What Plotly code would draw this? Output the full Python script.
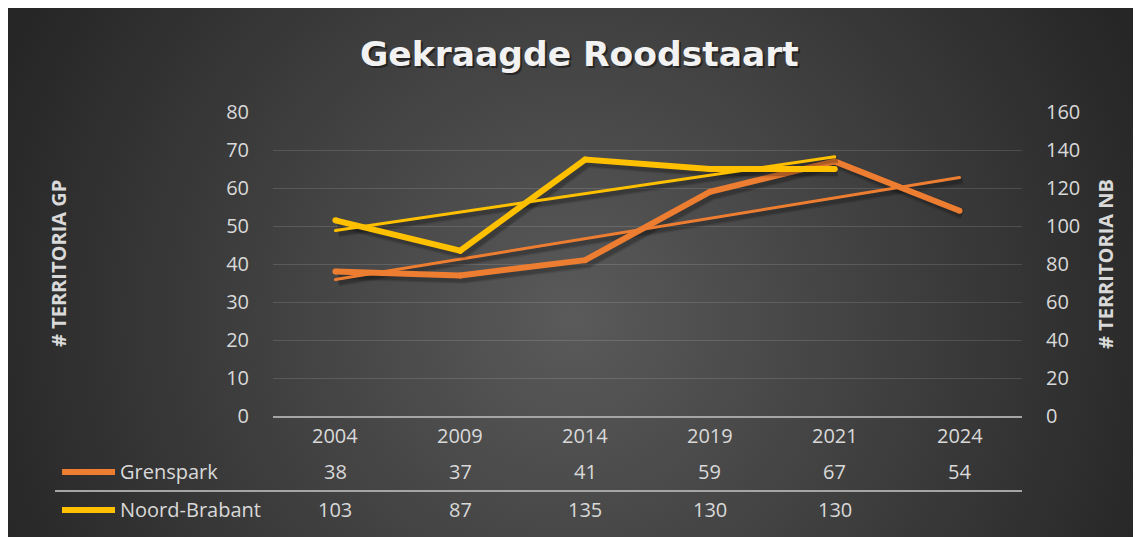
import base64
import numpy as np
import plotly.graph_objects as go

# ---------------- data ----------------
categories = ["2004", "2009", "2014", "2019", "2021", "2024"]
grenspark = [38, 37, 41, 59, 67, 54]
noord_brabant = [103, 87, 135, 130, 130, None]
series_names = ["Grenspark", "Noord-Brabant"]
left_ticks = [0, 10, 20, 30, 40, 50, 60, 70, 80]
right_ticks = [0, 20, 40, 60, 80, 100, 120, 140, 160]
title_text = "Gekraagde Roodstaart"
left_title = "# TERRITORIA GP"
right_title = "# TERRITORIA NB"

# ---------------- styling ----------------
OFF = 8  # page body margin
W, H = 1141 - OFF, 537 - OFF
L, R, T, B = 273 - OFF, 1141 - 1022, 112 - OFF, 537 - 416
PW, PH = W - L - R, H - T - B
ORANGE = "#ED7D31"
YELLOW = "#FFC000"
TICK_COL = "#d9d9d9"
FONT = "Open Sans"


def px_x(px):  # reference screen px -> paper x
    return (px - OFF - L) / PW


def px_y(py):  # reference screen px -> paper y
    return (H - B - (py - OFF)) / PH


x_pos = list(range(len(categories)))


def trend(values):
    xs = [x for x, v in zip(x_pos, values) if v is not None]
    ys = [v for v in values if v is not None]
    k, b = np.polyfit(xs, ys, 1)
    ends = [xs[0], xs[-1]]
    return ends, [k * e + b for e in ends]


gp_tx, gp_ty = trend(grenspark)
nb_tx, nb_ty = trend(noord_brabant)

# shadow offsets (pixels -> data units)
dx_px, dy_px = 3, 3
x_unit = PW / len(categories)
dx = dx_px / x_unit
dy_left = dy_px / (PH / 80)
dy_right = dy_px / (PH / 160)

fig = go.Figure()


def shadow(xs, ys, dyu, yaxis, width):
    sx = [x + dx for x in xs]
    sy = [None if v is None else v - dyu for v in ys]
    for w, op in [(width + 5, 0.10), (width + 2, 0.18)]:
        fig.add_trace(go.Scatter(x=sx, y=sy, yaxis=yaxis, mode="lines",
                                 line=dict(color=f"rgba(0,0,0,{op})", width=w),
                                 hoverinfo="skip", showlegend=False))


shadow(x_pos, grenspark, dy_left, "y", 6)
shadow(x_pos, noord_brabant, dy_right, "y2", 6)
shadow(gp_tx, gp_ty, dy_left, "y", 3)
shadow(nb_tx, nb_ty, dy_right, "y2", 3)

# trendlines
fig.add_trace(go.Scatter(x=gp_tx, y=gp_ty, mode="lines+markers", yaxis="y",
                         line=dict(color=ORANGE, width=3),
                         marker=dict(size=3, color=ORANGE),
                         showlegend=False, hoverinfo="skip"))
fig.add_trace(go.Scatter(x=nb_tx, y=nb_ty, mode="lines+markers", yaxis="y2",
                         line=dict(color=YELLOW, width=3),
                         marker=dict(size=3, color=YELLOW),
                         showlegend=False, hoverinfo="skip"))

# main series
fig.add_trace(go.Scatter(x=x_pos, y=grenspark, mode="lines+markers", yaxis="y",
                         name=series_names[0],
                         line=dict(color=ORANGE, width=6),
                         marker=dict(size=6, color=ORANGE),
                         showlegend=False))
fig.add_trace(go.Scatter(x=x_pos, y=noord_brabant, mode="lines+markers", yaxis="y2",
                         name=series_names[1],
                         line=dict(color=YELLOW, width=6),
                         marker=dict(size=6, color=YELLOW),
                         showlegend=False))

# ---------------- background ----------------
svg = (f'<svg xmlns="http://www.w3.org/2000/svg" width="{W}" height="{H}" '
       f'viewBox="0 0 {W} {H}" preserveAspectRatio="none"><defs>'
       f'<radialGradient id="g" gradientUnits="userSpaceOnUse" cx="565" cy="310" r="620">'
       f'<stop offset="0" stop-color="#5a5a5a"/><stop offset="1" stop-color="#262626"/>'
       f'</radialGradient></defs><rect width="{W}" height="{H}" fill="url(#g)"/></svg>')
src = "data:image/svg+xml;base64," + base64.b64encode(svg.encode()).decode()

annotations = []
shapes = []

# title with shadow
for col, off in [("rgba(0,0,0,0.45)", 2), ("#f2f2f2", 0)]:
    annotations.append(dict(text=f"<b>{title_text}</b>", xref="paper", yref="paper",
                            x=px_x(579 + off), y=px_y(54 + off), showarrow=False,
                            xanchor="center", yanchor="middle",
                            font=dict(family="DejaVu Sans", size=34.5, color=col)))

# axis titles
annotations.append(dict(text=f"<b>{left_title}</b>", xref="paper", yref="paper",
                        x=px_x(58), y=px_y(264), textangle=-90, showarrow=False,
                        xanchor="center", yanchor="middle",
                        font=dict(family=FONT, size=20, color=TICK_COL)))
annotations.append(dict(text=f"<b>{right_title}</b>", xref="paper", yref="paper",
                        x=px_x(1105), y=px_y(264), textangle=-90, showarrow=False,
                        xanchor="center", yanchor="middle",
                        font=dict(family=FONT, size=20, color=TICK_COL)))

# data table: categories
for xp, c in zip(x_pos, categories):
    annotations.append(dict(text=c, xref="x", yref="paper", x=xp, y=px_y(435),
                            showarrow=False, xanchor="center", yanchor="middle",
                            font=dict(family=FONT, size=20, color=TICK_COL)))
row_y = [471, 509]
row_vals = [grenspark, noord_brabant]
row_cols = [ORANGE, YELLOW]
for ry, vals, name, col in zip(row_y, row_vals, series_names, row_cols):
    for xp, v in zip(x_pos, vals):
        if v is None:
            continue
        annotations.append(dict(text=str(v), xref="x", yref="paper", x=xp, y=px_y(ry),
                                showarrow=False, xanchor="center", yanchor="middle",
                                font=dict(family=FONT, size=20, color=TICK_COL)))
    annotations.append(dict(text=name, xref="paper", yref="paper", x=px_x(118), y=px_y(ry),
                            showarrow=False, xanchor="left", yanchor="middle",
                            font=dict(family=FONT, size=20, color=TICK_COL)))
    shapes.append(dict(type="line", xref="paper", yref="paper",
                       x0=px_x(62), x1=px_x(115), y0=px_y(ry + 1), y1=px_y(ry + 1),
                       line=dict(color=col, width=6)))

# table separator
shapes.append(dict(type="line", xref="paper", yref="paper",
                   x0=px_x(55), x1=1.0, y0=px_y(491), y1=px_y(491),
                   line=dict(color="#a5a5a5", width=2)))

fig.update_layout(
    width=W, height=H,
    margin=dict(l=L, r=R, t=T, b=B, pad=0),
    paper_bgcolor="#2a2a2a",
    plot_bgcolor="rgba(0,0,0,0)",
    showlegend=False,
    images=[dict(source=src, xref="paper", yref="paper",
                 x=-L / PW, y=1 + T / PH, sizex=W / PW, sizey=H / PH,
                 xanchor="left", yanchor="top", sizing="stretch", layer="below")],
    annotations=annotations,
    shapes=shapes,
    xaxis=dict(range=[-0.5, len(categories) - 0.5], showgrid=False, zeroline=False,
               showticklabels=False, showline=True, linecolor="#a5a5a5", linewidth=2,
               fixedrange=True),
    yaxis=dict(range=[0, 80], tickvals=left_ticks, showgrid=True,
               gridcolor="rgba(255,255,255,0.13)", gridwidth=1, zeroline=False,
               ticks="outside", ticklen=19, tickcolor="rgba(0,0,0,0)",
               tickfont=dict(family=FONT, size=20, color=TICK_COL)),
    yaxis2=dict(range=[0, 160], tickvals=right_ticks, overlaying="y", side="right",
                showgrid=False, zeroline=False,
                ticks="outside", ticklen=19, tickcolor="rgba(0,0,0,0)",
                tickfont=dict(family=FONT, size=20, color=TICK_COL)),
)

fig.write_html("out.html")
